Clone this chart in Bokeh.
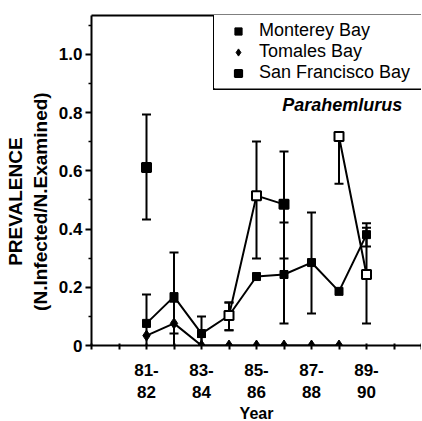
import math
from bokeh.plotting import figure
from bokeh.models import (FixedTicker, LinearAxis, Legend, LegendItem, Label,
                          Whisker, TeeHead, ColumnDataSource, Range1d, BoxAnnotation)
from bokeh.embed import file_html
from bokeh.resources import INLINE

nan = float("nan")

# x positions: 81 = "81-82", 82 = "82-83", ... 89 = "89-90"
years = [81, 82, 83, 84, 85, 86, 87, 88, 89]
axis_years = [79, 80, 81, 82, 83, 84, 85, 86, 87, 88, 89, 90, 91]
year_tick_labels = {81: "81-\n82", 83: "83-\n84", 85: "85-\n86", 87: "87-\n88", 89: "89-\n90"}

y_ticks = [0, 0.2, 0.4, 0.6, 0.8, 1.0]
y_minor = [0.1, 0.3, 0.5, 0.7, 0.9, 1.1]
y_tick_labels = ["0", "0.2", "0.4", "0.6", "0.8", "1.0"]

monterey = [0.076, 0.168, 0.041, 0.103, 0.237, 0.244, 0.285, 0.186, 0.381]
monterey_lo = [-0.024, 0.041, -0.015, 0.052, nan, 0.076, 0.110, nan, 0.340]
monterey_hi = [0.175, 0.320, 0.100, 0.148, nan, 0.423, 0.457, nan, 0.420]

tomales = [0.034, 0.076, 0.0, 0.0, 0.0, 0.0, 0.0, 0.0, nan]
tomales_lo = [nan, -0.034, -0.027, nan, nan, nan, nan, nan, nan]
tomales_hi = [nan, 0.150, 0.030, nan, nan, nan, nan, nan, nan]

sanfran = [0.612, nan, nan, 0.103, 0.515, 0.485, nan, 0.718, 0.244]
sanfran_lo = [0.433, nan, nan, 0.052, 0.299, 0.299, nan, 0.556, 0.076]
sanfran_hi = [0.794, nan, nan, 0.148, 0.701, 0.667, nan, 0.718, 0.405]

FONT = "Liberation Sans"
INK = "black"

p = figure(frame_width=330, frame_height=330,
           x_range=Range1d(79, 91), y_range=Range1d(0, 1.134),
           output_backend="svg", toolbar_location=None,
           min_border_left=91, min_border_right=0, min_border_top=15, min_border_bottom=76,
           background_fill_color="white", border_fill_color="white")
p.outline_line_color = None
p.xgrid.visible = False
p.ygrid.visible = False

# axes
xa = p.xaxis[0]
xa.ticker = FixedTicker(ticks=axis_years)
xa.major_label_overrides = {t: year_tick_labels.get(t, "") for t in axis_years}
xa.axis_line_width = 2
xa.axis_line_color = INK
xa.major_tick_line_color = INK
xa.major_tick_line_width = 2
xa.major_tick_in = 2
xa.major_tick_out = 4
xa.minor_tick_line_color = None
xa.major_label_text_font = FONT
xa.major_label_text_font_style = "bold"
xa.major_label_text_font_size = "17px"
xa.major_label_text_color = INK
xa.major_label_standoff = 11
xa.axis_label = "Year"
xa.axis_label_text_font = FONT
xa.axis_label_text_font_style = "bold"
xa.axis_label_text_font_size = "16px"
xa.axis_label_text_color = INK
xa.axis_label_standoff = 0

ya = p.yaxis[0]
ya.ticker = FixedTicker(ticks=y_ticks, minor_ticks=y_minor)
ya.major_label_overrides = {t: l for t, l in zip(y_ticks, y_tick_labels)}
ya.axis_line_width = 2
ya.axis_line_color = INK
ya.major_tick_line_color = INK
ya.minor_tick_line_color = INK
ya.major_tick_line_width = 2
ya.major_tick_in = 0
ya.major_tick_out = 6
ya.minor_tick_line_width = 1.5
ya.minor_tick_in = 0
ya.minor_tick_out = 3
ya.major_label_text_font = FONT
ya.major_label_text_font_style = "bold"
ya.major_label_text_font_size = "17px"
ya.major_label_text_color = INK
ya.major_label_standoff = 3
pad = "\u00a0" * 8
ya.axis_label = "PREVALENCE" + pad + "\n(N.Infected/N.Examined)" + pad
ya.axis_label_text_font = FONT
ya.axis_label_text_font_style = "bold"
ya.axis_label_text_font_size = "19px"
ya.axis_label_text_color = INK
ya.axis_label_standoff = 5

top = LinearAxis(ticker=FixedTicker(ticks=[]), axis_line_width=2, axis_line_color=INK,
                 major_tick_line_color=None, minor_tick_line_color=None,
                 major_label_text_font_size="0px")
p.add_layout(top, "above")

# series
src_m = ColumnDataSource(dict(x=years, y=monterey))
src_t = ColumnDataSource(dict(x=years, y=tomales))
sf_fill = ["black", "white", "white", "white", "white", "black", "white", "white", "white"]
src_s = ColumnDataSource(dict(x=years, y=sanfran, fill=sf_fill))

def whiskers(vals, lo, hi):
    xs, ls, hs = [], [], []
    for x, v, l, h in zip(years, vals, lo, hi):
        if not (math.isnan(l) or math.isnan(h)):
            xs.append(x); ls.append(l); hs.append(h)
    src = ColumnDataSource(dict(x=xs, lower=ls, upper=hs))
    w = Whisker(source=src, base="x", lower="lower", upper="upper",
                line_color=INK, line_width=2,
                upper_head=TeeHead(size=9, line_width=2, line_color=INK),
                lower_head=TeeHead(size=9, line_width=2, line_color=INK))
    p.add_layout(w)

whiskers(monterey, monterey_lo, monterey_hi)
whiskers(tomales, tomales_lo, tomales_hi)
whiskers(sanfran, sanfran_lo, sanfran_hi)

p.line("x", "y", source=src_t, line_color=INK, line_width=2)
p.line("x", "y", source=src_m, line_color=INK, line_width=2)
p.line("x", "y", source=src_s, line_color=INK, line_width=2)

r_t = p.scatter("x", "y", source=src_t, marker="diamond", size=11,
                fill_color=INK, line_color=INK)
r_m = p.scatter("x", "y", source=src_m, marker="square", size=8,
                fill_color=INK, line_color=INK)
r_s = p.scatter("x", "y", source=src_s, marker="square", size=9,
                fill_color="fill", line_color=INK, line_width=2)

legend = Legend(items=[LegendItem(label="Monterey Bay", renderers=[r_m]),
                       LegendItem(label="Tomales Bay", renderers=[r_t]),
                       LegendItem(label="San Francisco Bay", renderers=[r_s])],
                location=(123, 257), margin=0, padding=5, spacing=0,
                label_height=18, glyph_height=18, glyph_width=38, label_standoff=2,
                label_width=200,
                label_text_font=FONT, label_text_font_size="18px", label_text_color=INK,
                border_line_alpha=0,
                background_fill_color="white", background_fill_alpha=1.0)
p.add_layout(legend, "center")

# legend frame: only left and bottom edges (it runs off the right edge, as in the reference)
p.add_layout(BoxAnnotation(left=121.5, right=123, bottom=255.5, top=340,
                           left_units="screen", right_units="screen",
                           bottom_units="screen", top_units="screen",
                           fill_color=INK, fill_alpha=1, line_alpha=0, level="overlay"))
p.add_layout(BoxAnnotation(left=121.5, right=600, bottom=255.5, top=257,
                           left_units="screen", right_units="screen",
                           bottom_units="screen", top_units="screen",
                           fill_color=INK, fill_alpha=1, line_alpha=0, level="overlay"))

p.add_layout(Label(x=90.3, y=0.828, text="Parahemlurus", text_align="right",
                   text_baseline="middle", text_font=FONT, text_color=INK,
                   text_font_style="bold italic", text_font_size="18px"))

open("out.html", "w").write(file_html(p, INLINE))
